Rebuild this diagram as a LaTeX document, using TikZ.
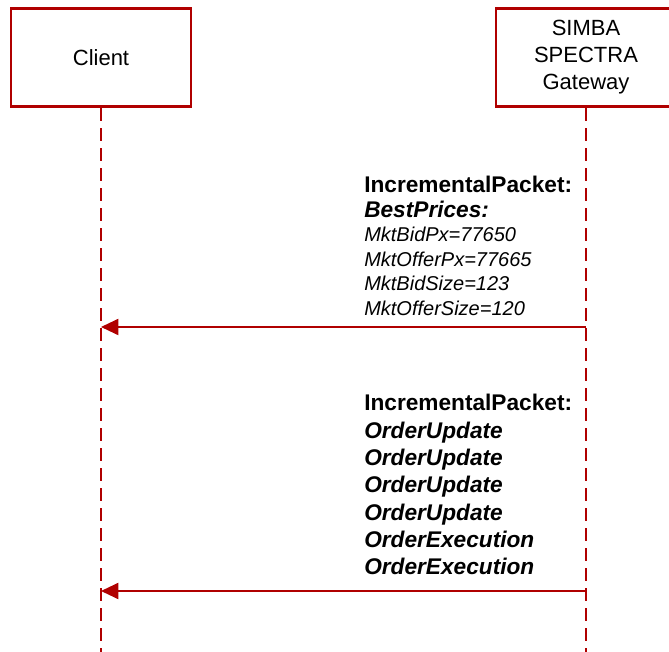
\documentclass[tikz,border=0pt]{standalone}
\usepackage{fontspec}
\setmainfont{Liberation Sans}
\usetikzlibrary{arrows.meta,positioning}
\definecolor{simbared}{RGB}{176,0,0}
\tikzset{
  party/.style={draw=simbared, line width=2.2pt, fill=white, minimum width=135pt,
    minimum height=74pt, align=center, font=\fontsize{16.5}{20.25}\selectfont},
  lifeline/.style={draw=simbared, line width=1.4pt, dash pattern=on 9.75pt off 5.25pt},
  msg/.style={draw=simbared, line width=1.5pt, -{Triangle[length=13pt,width=12pt]}},
  msgtext/.style={anchor=north west, inner sep=0pt, align=left}
}

\begin{document}
\begin{tikzpicture}[x=0.75pt,y=-0.75pt]
    \useasboundingbox (0,0) rectangle (669,652);
    \clip (0,0) rectangle (669,652);

    % Participants
    \node[party] (client) at (101,57.5) {Client};
    \node[party] (gateway) at (586,57.5) {SIMBA\\SPECTRA\\Gateway};

    % Lifelines
    \coordinate (clientend) at (101,652);
    \coordinate (gatewayend) at (586,652);
    \draw[lifeline] (client.south) -- (clientend);
    \draw[lifeline] (gateway.south) -- (gatewayend);

    % Message ends
    \coordinate (gw1) at (586,327);
    \coordinate (cl1) at (101,327);
    \coordinate (gw2) at (586,591);
    \coordinate (cl2) at (101,591);

    % Messages
    \node[msgtext, font=\fontsize{15}{18.4}\selectfont\itshape] (bestprices) at (364,176)
        {{\fontsize{17}{18.4}\selectfont\bfseries\upshape IncrementalPacket:}\\
         {\fontsize{17}{18.4}\selectfont\bfseries BestPrices:}\\
         MktBidPx=77650\\
         MktOfferPx=77665\\
         MktBidSize=123\\
         MktOfferSize=120};
    \draw[msg] (gw1) -- (cl1);

    \node[msgtext, font=\fontsize{17}{20.5}\selectfont\bfseries\itshape] (orders) at (364,394)
        {{\upshape IncrementalPacket:}\\
         OrderUpdate\\
         OrderUpdate\\
         OrderUpdate\\
         OrderUpdate\\
         OrderExecution\\
         OrderExecution};
    \draw[msg] (gw2) -- (cl2);
\end{tikzpicture}
\end{document}
